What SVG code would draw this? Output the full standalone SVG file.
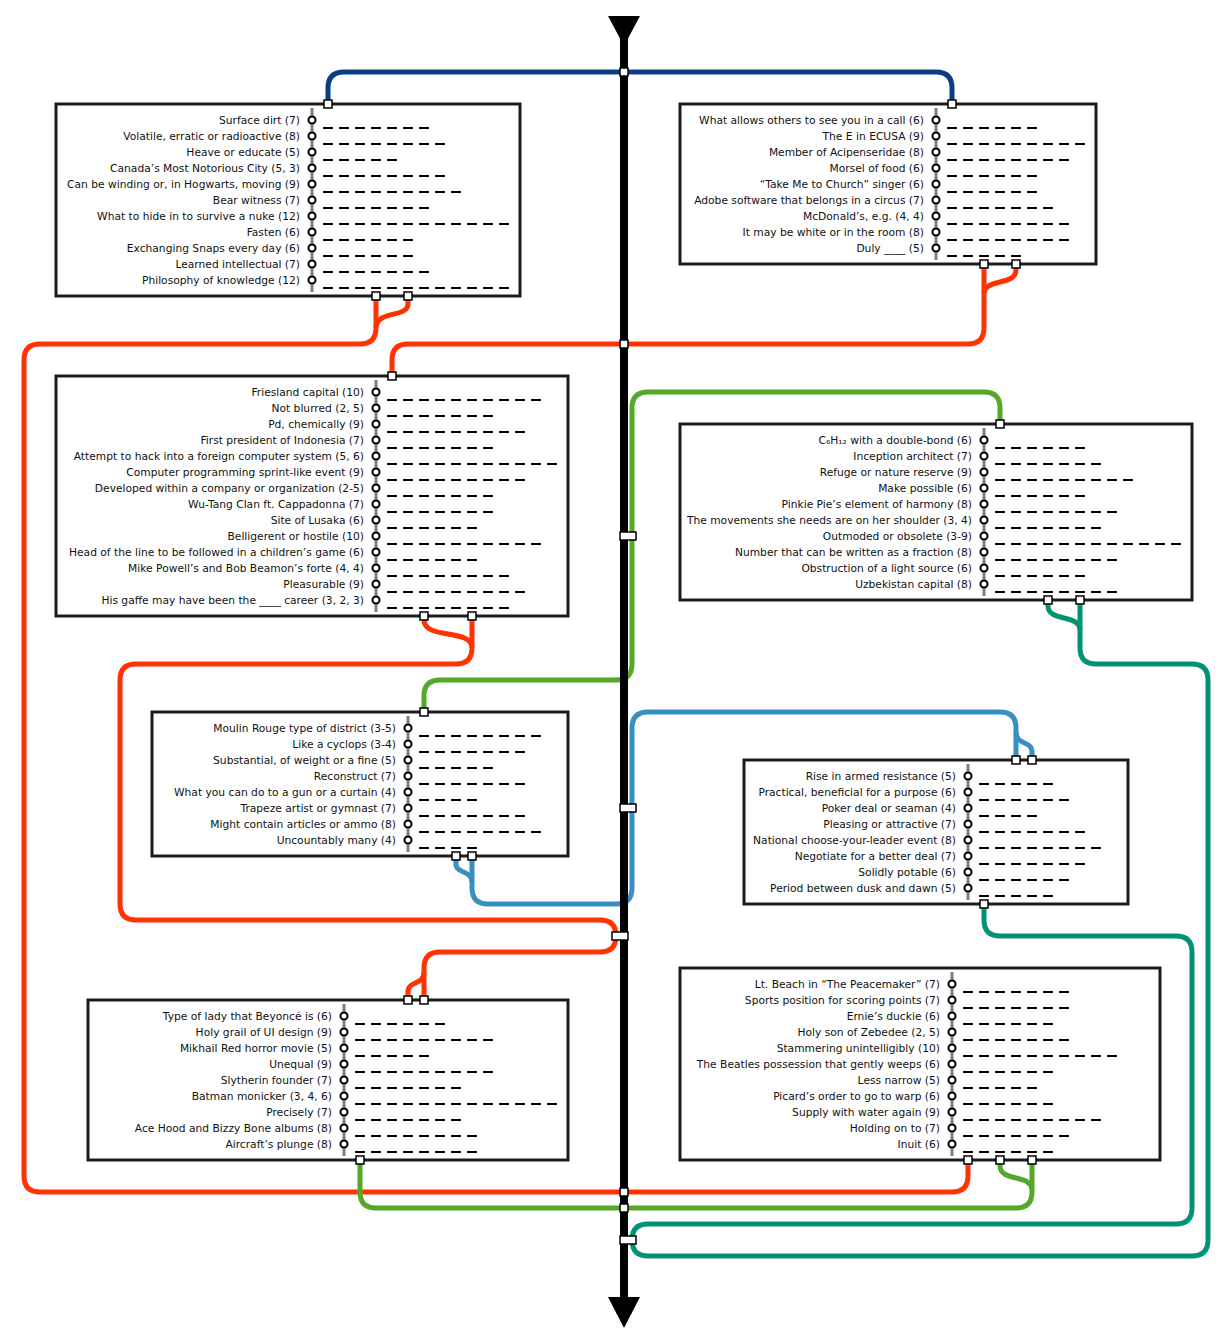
<svg xmlns="http://www.w3.org/2000/svg" width="1232" height="1344" viewBox="0 0 1232 1344">
<style>
.box{fill:#fff;stroke:#1a1a1a;stroke-width:3}
.rail{stroke:#808080;stroke-width:3}
.st{fill:#fff;stroke:#000;stroke-width:2}
.d{stroke:#000;stroke-width:2;stroke-dasharray:10 6}
.t{font-family:"DejaVu Sans",sans-serif;font-size:10.7px;fill:#111;text-anchor:end}
.port{fill:#fff;stroke:#000;stroke-width:1.5}
.c{fill:none;stroke-width:5;stroke-linejoin:round}
.navy{stroke:#0b3c88}
.red{stroke:#ff3300}
.green{stroke:#56a82a}
.sky{stroke:#3a8fc2}
.teal{stroke:#009473}
</style>
<rect width="1232" height="1344" fill="#fff"/>
<g id="connectors">
<path class="c navy" d="M328,104 V88 Q328,72 344,72 H936 Q952,72 952,88 V104"/>
<path class="c red" d="M376,296 V328 Q376,344 360,344 H40 Q24,344 24,360 V1176 Q24,1192 40,1192 H952 Q968,1192 968,1176 V1160"/>
<path class="c red" d="M408,296 V304 C408,318 376,310 376,328"/>
<path class="c red" d="M984,264 V328 Q984,344 968,344 H408 Q392,344 392,360 V376"/>
<path class="c red" d="M1016,264 V270 C1016,286 984,278 984,294"/>
<path class="c red" d="M472,616 V648 Q472,664 456,664 H136 Q120,664 120,680 V904 Q120,920 136,920 H600 Q616,920 616,936 Q616,952 600,952 H440 Q424,952 424,968 V1000"/>
<path class="c red" d="M424,616 V620 C424,640 472,628 472,648"/>
<path class="c red" d="M408,1000 V992 C408,980 424,986 424,972"/>
<path class="c green" d="M1000,424 V408 Q1000,392 984,392 H648 Q632,392 632,408 V664 Q632,680 616,680 H440 Q424,680 424,696 V712"/>
<path class="c sky" d="M472,856 V888 Q472,904 488,904 H616 Q632,904 632,888 V728 Q632,712 648,712 H1000 Q1016,712 1016,728 V760"/>
<path class="c sky" d="M456,856 V864 C456,874 472,870 472,882"/>
<path class="c sky" d="M1032,760 V752 C1032,740 1016,746 1016,732"/>
<path class="c teal" d="M1080,600 V648 Q1080,664 1096,664 H1192 Q1208,664 1208,680 V1240 Q1208,1256 1192,1256 H648 Q632,1256 632,1240 Q632,1224 648,1224 H1176 Q1192,1224 1192,1208 V952 Q1192,936 1176,936 H1000 Q984,936 984,920 V904"/>
<path class="c teal" d="M1048,600 V606 C1048,622 1080,614 1080,630"/>
<path class="c green" d="M360,1160 V1192 Q360,1208 376,1208 H1016 Q1032,1208 1032,1192 V1160"/>
<path class="c green" d="M1000,1160 V1166 C1000,1182 1032,1174 1032,1190"/>
</g>
<g id="spine">
<line x1="624" y1="30" x2="624" y2="1300" stroke="#000" stroke-width="8"/>
<polygon points="608,16 640,16 624,46" fill="#000"/>
<polygon points="608,1297 640,1297 624,1328" fill="#000"/>
</g>
<g id="nodeA">
<rect class="box" x="56" y="104" width="464" height="192"/>
<line class="rail" x1="312" y1="108" x2="312" y2="292"/>
<text class="t" x="300" y="124">Surface dirt (7)</text>
<text class="t" x="300" y="140">Volatile, erratic or radioactive (8)</text>
<text class="t" x="300" y="156">Heave or educate (5)</text>
<text class="t" x="300" y="172">Canada’s Most Notorious City (5, 3)</text>
<text class="t" x="300" y="188">Can be winding or, in Hogwarts, moving (9)</text>
<text class="t" x="300" y="204">Bear witness (7)</text>
<text class="t" x="300" y="220">What to hide in to survive a nuke (12)</text>
<text class="t" x="300" y="236">Fasten (6)</text>
<text class="t" x="300" y="252">Exchanging Snaps every day (6)</text>
<text class="t" x="300" y="268">Learned intellectual (7)</text>
<text class="t" x="300" y="284">Philosophy of knowledge (12)</text>
<circle class="st" cx="312" cy="120" r="3.5"/><circle class="st" cx="312" cy="136" r="3.5"/><circle class="st" cx="312" cy="152" r="3.5"/><circle class="st" cx="312" cy="168" r="3.5"/><circle class="st" cx="312" cy="184" r="3.5"/><circle class="st" cx="312" cy="200" r="3.5"/><circle class="st" cx="312" cy="216" r="3.5"/><circle class="st" cx="312" cy="232" r="3.5"/><circle class="st" cx="312" cy="248" r="3.5"/><circle class="st" cx="312" cy="264" r="3.5"/><circle class="st" cx="312" cy="280" r="3.5"/>
<line class="d" x1="323" x2="429" y1="128" y2="128"/><line class="d" x1="323" x2="445" y1="144" y2="144"/><line class="d" x1="323" x2="397" y1="160" y2="160"/><line class="d" x1="323" x2="445" y1="176" y2="176"/><line class="d" x1="323" x2="461" y1="192" y2="192"/><line class="d" x1="323" x2="429" y1="208" y2="208"/><line class="d" x1="323" x2="509" y1="224" y2="224"/><line class="d" x1="323" x2="413" y1="240" y2="240"/><line class="d" x1="323" x2="413" y1="256" y2="256"/><line class="d" x1="323" x2="429" y1="272" y2="272"/><line class="d" x1="323" x2="509" y1="288" y2="288"/>
<rect class="port" x="324" y="100" width="8" height="8"/><rect class="port" x="372" y="292" width="8" height="8"/><rect class="port" x="404" y="292" width="8" height="8"/>
</g>
<g id="nodeB">
<rect class="box" x="680" y="104" width="416" height="160"/>
<line class="rail" x1="936" y1="108" x2="936" y2="260"/>
<text class="t" x="924" y="124">What allows others to see you in a call (6)</text>
<text class="t" x="924" y="140">The E in ECUSA (9)</text>
<text class="t" x="924" y="156">Member of Acipenseridae (8)</text>
<text class="t" x="924" y="172">Morsel of food (6)</text>
<text class="t" x="924" y="188">“Take Me to Church” singer (6)</text>
<text class="t" x="924" y="204">Adobe software that belongs in a circus (7)</text>
<text class="t" x="924" y="220">McDonald’s, e.g. (4, 4)</text>
<text class="t" x="924" y="236">It may be white or in the room (8)</text>
<text class="t" x="924" y="252">Duly ____ (5)</text>
<circle class="st" cx="936" cy="120" r="3.5"/><circle class="st" cx="936" cy="136" r="3.5"/><circle class="st" cx="936" cy="152" r="3.5"/><circle class="st" cx="936" cy="168" r="3.5"/><circle class="st" cx="936" cy="184" r="3.5"/><circle class="st" cx="936" cy="200" r="3.5"/><circle class="st" cx="936" cy="216" r="3.5"/><circle class="st" cx="936" cy="232" r="3.5"/><circle class="st" cx="936" cy="248" r="3.5"/>
<line class="d" x1="947" x2="1037" y1="128" y2="128"/><line class="d" x1="947" x2="1085" y1="144" y2="144"/><line class="d" x1="947" x2="1069" y1="160" y2="160"/><line class="d" x1="947" x2="1037" y1="176" y2="176"/><line class="d" x1="947" x2="1037" y1="192" y2="192"/><line class="d" x1="947" x2="1053" y1="208" y2="208"/><line class="d" x1="947" x2="1069" y1="224" y2="224"/><line class="d" x1="947" x2="1069" y1="240" y2="240"/><line class="d" x1="947" x2="1021" y1="256" y2="256"/>
<rect class="port" x="948" y="100" width="8" height="8"/><rect class="port" x="980" y="260" width="8" height="8"/><rect class="port" x="1012" y="260" width="8" height="8"/>
</g>
<g id="nodeC">
<rect class="box" x="56" y="376" width="512" height="240"/>
<line class="rail" x1="376" y1="380" x2="376" y2="612"/>
<text class="t" x="364" y="396">Friesland capital (10)</text>
<text class="t" x="364" y="412">Not blurred (2, 5)</text>
<text class="t" x="364" y="428">Pd, chemically (9)</text>
<text class="t" x="364" y="444">First president of Indonesia (7)</text>
<text class="t" x="364" y="460">Attempt to hack into a foreign computer system (5, 6)</text>
<text class="t" x="364" y="476">Computer programming sprint-like event (9)</text>
<text class="t" x="364" y="492">Developed within a company or organization (2-5)</text>
<text class="t" x="364" y="508">Wu-Tang Clan ft. Cappadonna (7)</text>
<text class="t" x="364" y="524">Site of Lusaka (6)</text>
<text class="t" x="364" y="540">Belligerent or hostile (10)</text>
<text class="t" x="364" y="556">Head of the line to be followed in a children’s game (6)</text>
<text class="t" x="364" y="572">Mike Powell’s and Bob Beamon’s forte (4, 4)</text>
<text class="t" x="364" y="588">Pleasurable (9)</text>
<text class="t" x="364" y="604">His gaffe may have been the ____ career (3, 2, 3)</text>
<circle class="st" cx="376" cy="392" r="3.5"/><circle class="st" cx="376" cy="408" r="3.5"/><circle class="st" cx="376" cy="424" r="3.5"/><circle class="st" cx="376" cy="440" r="3.5"/><circle class="st" cx="376" cy="456" r="3.5"/><circle class="st" cx="376" cy="472" r="3.5"/><circle class="st" cx="376" cy="488" r="3.5"/><circle class="st" cx="376" cy="504" r="3.5"/><circle class="st" cx="376" cy="520" r="3.5"/><circle class="st" cx="376" cy="536" r="3.5"/><circle class="st" cx="376" cy="552" r="3.5"/><circle class="st" cx="376" cy="568" r="3.5"/><circle class="st" cx="376" cy="584" r="3.5"/><circle class="st" cx="376" cy="600" r="3.5"/>
<line class="d" x1="387" x2="541" y1="400" y2="400"/><line class="d" x1="387" x2="493" y1="416" y2="416"/><line class="d" x1="387" x2="525" y1="432" y2="432"/><line class="d" x1="387" x2="493" y1="448" y2="448"/><line class="d" x1="387" x2="557" y1="464" y2="464"/><line class="d" x1="387" x2="525" y1="480" y2="480"/><line class="d" x1="387" x2="493" y1="496" y2="496"/><line class="d" x1="387" x2="493" y1="512" y2="512"/><line class="d" x1="387" x2="477" y1="528" y2="528"/><line class="d" x1="387" x2="541" y1="544" y2="544"/><line class="d" x1="387" x2="477" y1="560" y2="560"/><line class="d" x1="387" x2="509" y1="576" y2="576"/><line class="d" x1="387" x2="525" y1="592" y2="592"/><line class="d" x1="387" x2="509" y1="608" y2="608"/>
<rect class="port" x="388" y="372" width="8" height="8"/><rect class="port" x="420" y="612" width="8" height="8"/><rect class="port" x="468" y="612" width="8" height="8"/>
</g>
<g id="nodeD">
<rect class="box" x="680" y="424" width="512" height="176"/>
<line class="rail" x1="984" y1="428" x2="984" y2="596"/>
<text class="t" x="972" y="444">C₆H₁₂ with a double-bond (6)</text>
<text class="t" x="972" y="460">Inception architect (7)</text>
<text class="t" x="972" y="476">Refuge or nature reserve (9)</text>
<text class="t" x="972" y="492">Make possible (6)</text>
<text class="t" x="972" y="508">Pinkie Pie’s element of harmony (8)</text>
<text class="t" x="972" y="524">The movements she needs are on her shoulder (3, 4)</text>
<text class="t" x="972" y="540">Outmoded or obsolete (3-9)</text>
<text class="t" x="972" y="556">Number that can be written as a fraction (8)</text>
<text class="t" x="972" y="572">Obstruction of a light source (6)</text>
<text class="t" x="972" y="588">Uzbekistan capital (8)</text>
<circle class="st" cx="984" cy="440" r="3.5"/><circle class="st" cx="984" cy="456" r="3.5"/><circle class="st" cx="984" cy="472" r="3.5"/><circle class="st" cx="984" cy="488" r="3.5"/><circle class="st" cx="984" cy="504" r="3.5"/><circle class="st" cx="984" cy="520" r="3.5"/><circle class="st" cx="984" cy="536" r="3.5"/><circle class="st" cx="984" cy="552" r="3.5"/><circle class="st" cx="984" cy="568" r="3.5"/><circle class="st" cx="984" cy="584" r="3.5"/>
<line class="d" x1="995" x2="1085" y1="448" y2="448"/><line class="d" x1="995" x2="1101" y1="464" y2="464"/><line class="d" x1="995" x2="1133" y1="480" y2="480"/><line class="d" x1="995" x2="1085" y1="496" y2="496"/><line class="d" x1="995" x2="1117" y1="512" y2="512"/><line class="d" x1="995" x2="1101" y1="528" y2="528"/><line class="d" x1="995" x2="1181" y1="544" y2="544"/><line class="d" x1="995" x2="1117" y1="560" y2="560"/><line class="d" x1="995" x2="1085" y1="576" y2="576"/><line class="d" x1="995" x2="1117" y1="592" y2="592"/>
<rect class="port" x="996" y="420" width="8" height="8"/><rect class="port" x="1044" y="596" width="8" height="8"/><rect class="port" x="1076" y="596" width="8" height="8"/>
</g>
<g id="nodeE">
<rect class="box" x="152" y="712" width="416" height="144"/>
<line class="rail" x1="408" y1="716" x2="408" y2="852"/>
<text class="t" x="396" y="732">Moulin Rouge type of district (3-5)</text>
<text class="t" x="396" y="748">Like a cyclops (3-4)</text>
<text class="t" x="396" y="764">Substantial, of weight or a fine (5)</text>
<text class="t" x="396" y="780">Reconstruct (7)</text>
<text class="t" x="396" y="796">What you can do to a gun or a curtain (4)</text>
<text class="t" x="396" y="812">Trapeze artist or gymnast (7)</text>
<text class="t" x="396" y="828">Might contain articles or ammo (8)</text>
<text class="t" x="396" y="844">Uncountably many (4)</text>
<circle class="st" cx="408" cy="728" r="3.5"/><circle class="st" cx="408" cy="744" r="3.5"/><circle class="st" cx="408" cy="760" r="3.5"/><circle class="st" cx="408" cy="776" r="3.5"/><circle class="st" cx="408" cy="792" r="3.5"/><circle class="st" cx="408" cy="808" r="3.5"/><circle class="st" cx="408" cy="824" r="3.5"/><circle class="st" cx="408" cy="840" r="3.5"/>
<line class="d" x1="419" x2="541" y1="736" y2="736"/><line class="d" x1="419" x2="525" y1="752" y2="752"/><line class="d" x1="419" x2="493" y1="768" y2="768"/><line class="d" x1="419" x2="525" y1="784" y2="784"/><line class="d" x1="419" x2="477" y1="800" y2="800"/><line class="d" x1="419" x2="525" y1="816" y2="816"/><line class="d" x1="419" x2="541" y1="832" y2="832"/><line class="d" x1="419" x2="477" y1="848" y2="848"/>
<rect class="port" x="420" y="708" width="8" height="8"/><rect class="port" x="452" y="852" width="8" height="8"/><rect class="port" x="468" y="852" width="8" height="8"/>
</g>
<g id="nodeF">
<rect class="box" x="744" y="760" width="384" height="144"/>
<line class="rail" x1="968" y1="764" x2="968" y2="900"/>
<text class="t" x="956" y="780">Rise in armed resistance (5)</text>
<text class="t" x="956" y="796">Practical, beneficial for a purpose (6)</text>
<text class="t" x="956" y="812">Poker deal or seaman (4)</text>
<text class="t" x="956" y="828">Pleasing or attractive (7)</text>
<text class="t" x="956" y="844">National choose-your-leader event (8)</text>
<text class="t" x="956" y="860">Negotiate for a better deal (7)</text>
<text class="t" x="956" y="876">Solidly potable (6)</text>
<text class="t" x="956" y="892">Period between dusk and dawn (5)</text>
<circle class="st" cx="968" cy="776" r="3.5"/><circle class="st" cx="968" cy="792" r="3.5"/><circle class="st" cx="968" cy="808" r="3.5"/><circle class="st" cx="968" cy="824" r="3.5"/><circle class="st" cx="968" cy="840" r="3.5"/><circle class="st" cx="968" cy="856" r="3.5"/><circle class="st" cx="968" cy="872" r="3.5"/><circle class="st" cx="968" cy="888" r="3.5"/>
<line class="d" x1="979" x2="1053" y1="784" y2="784"/><line class="d" x1="979" x2="1069" y1="800" y2="800"/><line class="d" x1="979" x2="1037" y1="816" y2="816"/><line class="d" x1="979" x2="1085" y1="832" y2="832"/><line class="d" x1="979" x2="1101" y1="848" y2="848"/><line class="d" x1="979" x2="1085" y1="864" y2="864"/><line class="d" x1="979" x2="1069" y1="880" y2="880"/><line class="d" x1="979" x2="1053" y1="896" y2="896"/>
<rect class="port" x="1012" y="756" width="8" height="8"/><rect class="port" x="1028" y="756" width="8" height="8"/><rect class="port" x="980" y="900" width="8" height="8"/>
</g>
<g id="nodeG">
<rect class="box" x="88" y="1000" width="480" height="160"/>
<line class="rail" x1="344" y1="1004" x2="344" y2="1156"/>
<text class="t" x="332" y="1020">Type of lady that Beyoncé is (6)</text>
<text class="t" x="332" y="1036">Holy grail of UI design (9)</text>
<text class="t" x="332" y="1052">Mikhail Red horror movie (5)</text>
<text class="t" x="332" y="1068">Unequal (9)</text>
<text class="t" x="332" y="1084">Slytherin founder (7)</text>
<text class="t" x="332" y="1100">Batman monicker (3, 4, 6)</text>
<text class="t" x="332" y="1116">Precisely (7)</text>
<text class="t" x="332" y="1132">Ace Hood and Bizzy Bone albums (8)</text>
<text class="t" x="332" y="1148">Aircraft’s plunge (8)</text>
<circle class="st" cx="344" cy="1016" r="3.5"/><circle class="st" cx="344" cy="1032" r="3.5"/><circle class="st" cx="344" cy="1048" r="3.5"/><circle class="st" cx="344" cy="1064" r="3.5"/><circle class="st" cx="344" cy="1080" r="3.5"/><circle class="st" cx="344" cy="1096" r="3.5"/><circle class="st" cx="344" cy="1112" r="3.5"/><circle class="st" cx="344" cy="1128" r="3.5"/><circle class="st" cx="344" cy="1144" r="3.5"/>
<line class="d" x1="355" x2="445" y1="1024" y2="1024"/><line class="d" x1="355" x2="493" y1="1040" y2="1040"/><line class="d" x1="355" x2="429" y1="1056" y2="1056"/><line class="d" x1="355" x2="493" y1="1072" y2="1072"/><line class="d" x1="355" x2="461" y1="1088" y2="1088"/><line class="d" x1="355" x2="557" y1="1104" y2="1104"/><line class="d" x1="355" x2="461" y1="1120" y2="1120"/><line class="d" x1="355" x2="477" y1="1136" y2="1136"/><line class="d" x1="355" x2="477" y1="1152" y2="1152"/>
<rect class="port" x="404" y="996" width="8" height="8"/><rect class="port" x="420" y="996" width="8" height="8"/><rect class="port" x="356" y="1156" width="8" height="8"/>
</g>
<g id="nodeH">
<rect class="box" x="680" y="968" width="480" height="192"/>
<line class="rail" x1="952" y1="972" x2="952" y2="1156"/>
<text class="t" x="940" y="988">Lt. Beach in “The Peacemaker” (7)</text>
<text class="t" x="940" y="1004">Sports position for scoring points (7)</text>
<text class="t" x="940" y="1020">Ernie’s duckie (6)</text>
<text class="t" x="940" y="1036">Holy son of Zebedee (2, 5)</text>
<text class="t" x="940" y="1052">Stammering unintelligibly (10)</text>
<text class="t" x="940" y="1068">The Beatles possession that gently weeps (6)</text>
<text class="t" x="940" y="1084">Less narrow (5)</text>
<text class="t" x="940" y="1100">Picard’s order to go to warp (6)</text>
<text class="t" x="940" y="1116">Supply with water again (9)</text>
<text class="t" x="940" y="1132">Holding on to (7)</text>
<text class="t" x="940" y="1148">Inuit (6)</text>
<circle class="st" cx="952" cy="984" r="3.5"/><circle class="st" cx="952" cy="1000" r="3.5"/><circle class="st" cx="952" cy="1016" r="3.5"/><circle class="st" cx="952" cy="1032" r="3.5"/><circle class="st" cx="952" cy="1048" r="3.5"/><circle class="st" cx="952" cy="1064" r="3.5"/><circle class="st" cx="952" cy="1080" r="3.5"/><circle class="st" cx="952" cy="1096" r="3.5"/><circle class="st" cx="952" cy="1112" r="3.5"/><circle class="st" cx="952" cy="1128" r="3.5"/><circle class="st" cx="952" cy="1144" r="3.5"/>
<line class="d" x1="963" x2="1069" y1="992" y2="992"/><line class="d" x1="963" x2="1069" y1="1008" y2="1008"/><line class="d" x1="963" x2="1053" y1="1024" y2="1024"/><line class="d" x1="963" x2="1069" y1="1040" y2="1040"/><line class="d" x1="963" x2="1117" y1="1056" y2="1056"/><line class="d" x1="963" x2="1053" y1="1072" y2="1072"/><line class="d" x1="963" x2="1037" y1="1088" y2="1088"/><line class="d" x1="963" x2="1053" y1="1104" y2="1104"/><line class="d" x1="963" x2="1101" y1="1120" y2="1120"/><line class="d" x1="963" x2="1069" y1="1136" y2="1136"/><line class="d" x1="963" x2="1053" y1="1152" y2="1152"/>
<rect class="port" x="964" y="1156" width="8" height="8"/><rect class="port" x="996" y="1156" width="8" height="8"/><rect class="port" x="1028" y="1156" width="8" height="8"/>
</g>
<g id="spine-ports">
<rect class="port" x="620" y="68" width="8" height="8"/>
<rect class="port" x="620" y="340" width="8" height="8"/>
<rect class="port" x="620" y="532" width="16" height="8"/>
<rect class="port" x="620" y="804" width="16" height="8"/>
<rect class="port" x="612" y="932" width="16" height="8"/>
<rect class="port" x="620" y="1188" width="8" height="8"/>
<rect class="port" x="620" y="1204" width="8" height="8"/>
<rect class="port" x="620" y="1236" width="16" height="8"/>
</g>
</svg>
